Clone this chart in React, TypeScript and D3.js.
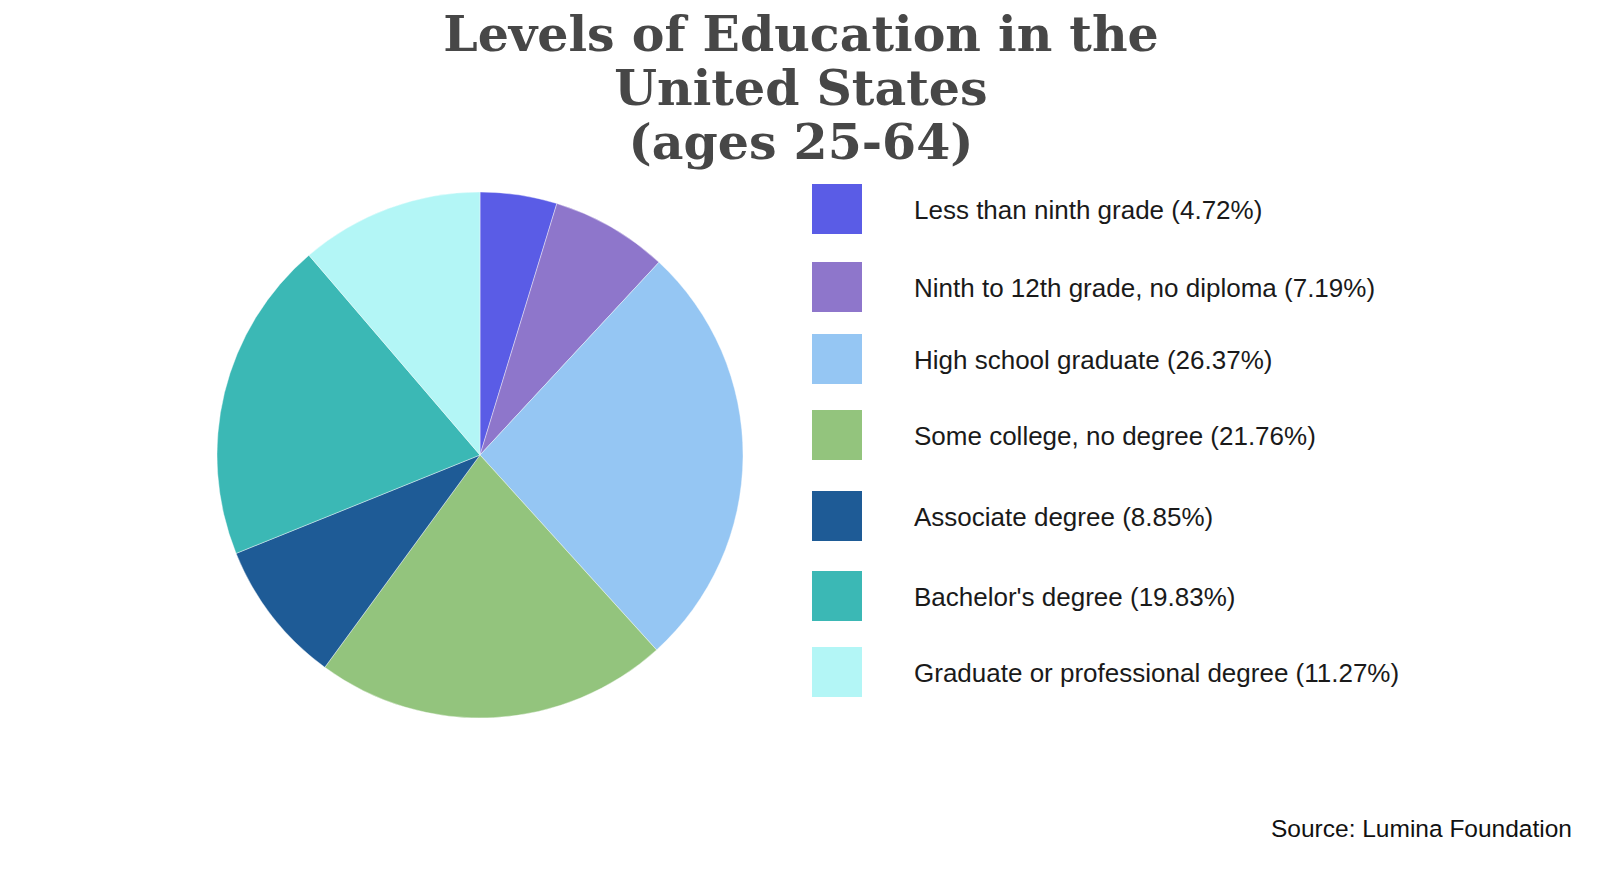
import { useMemo } from 'react';
import * as d3 from 'd3';

const WIDTH = 1600;
const HEIGHT = 878;

const categories = [
  'Less than ninth grade',
  'Ninth to 12th grade, no diploma',
  'High school graduate',
  'Some college, no degree',
  'Associate degree',
  "Bachelor's degree",
  'Graduate or professional degree',
];
const shares = [4.72, 7.19, 26.37, 21.76, 8.85, 19.83, 11.27];
const colors = ['#5a5ce6', '#8e76cb', '#95c6f3', '#93c47d', '#1e5b96', '#3bb8b5', '#b3f6f6'];
const titleLines = ['Levels of Education in the', 'United States', '(ages 25-64)'];
const sourceText = 'Source: Lumina Foundation';

const PIE = { cx: 480, cy: 455, r: 263 };
const LEGEND = { x: 812, size: 50, textX: 914, rowTops: [184, 262, 334, 410, 491, 571, 647] };

type Slice = { label: string; value: number; color: string };

const App = () => {
  const data: Slice[] = categories.map((c, i) => ({ label: c, value: shares[i], color: colors[i] }));

  const arcs = useMemo(() => {
    const pie = d3.pie<Slice>().sort(null).value((d) => d.value);
    return pie(data);
  }, []);

  const arcBuilder = d3.arc<d3.PieArcDatum<Slice>>().innerRadius(0).outerRadius(PIE.r);

  return (
    <svg
      width={WIDTH}
      height={HEIGHT}
      style={{ position: 'absolute', left: 0, top: 0, background: '#fff' }}
    >
      {/* title */}
      <g fontFamily="'DejaVu Serif', serif" fontWeight="bold" fill="#474747" textAnchor="middle">
        {titleLines.map((t, i) => (
          <text key={i} x={801} y={51 + i * 54} fontSize={49}>
            {t}
          </text>
        ))}
      </g>

      {/* pie */}
      <g transform={`translate(${PIE.cx},${PIE.cy})`}>
        {arcs.map((a, i) => (
          <path
            key={i}
            d={arcBuilder(a) || ''}
            fill={a.data.color}
            stroke="#ffffff"
            strokeOpacity={0.5}
            strokeWidth={0.8}
          />
        ))}
      </g>

      {/* legend */}
      <g fontFamily="'Liberation Sans', Arial, sans-serif" fontSize={26} fill="#1a1a1a">
        {data.map((d, i) => (
          <g key={i}>
            <rect x={LEGEND.x} y={LEGEND.rowTops[i]} width={LEGEND.size} height={LEGEND.size} fill={d.color} />
            <text x={LEGEND.textX} y={LEGEND.rowTops[i] + LEGEND.size / 2 + 0.5} dominantBaseline="central">
              {`${d.label} (${d.value.toFixed(2)}%)`}
            </text>
          </g>
        ))}
      </g>

      <text
        x={1572}
        y={837}
        textAnchor="end"
        fontFamily="'Liberation Sans', Arial, sans-serif"
        fontSize={24.5}
        fill="#111"
      >
        {sourceText}
      </text>
    </svg>
  );
};

export default App;
